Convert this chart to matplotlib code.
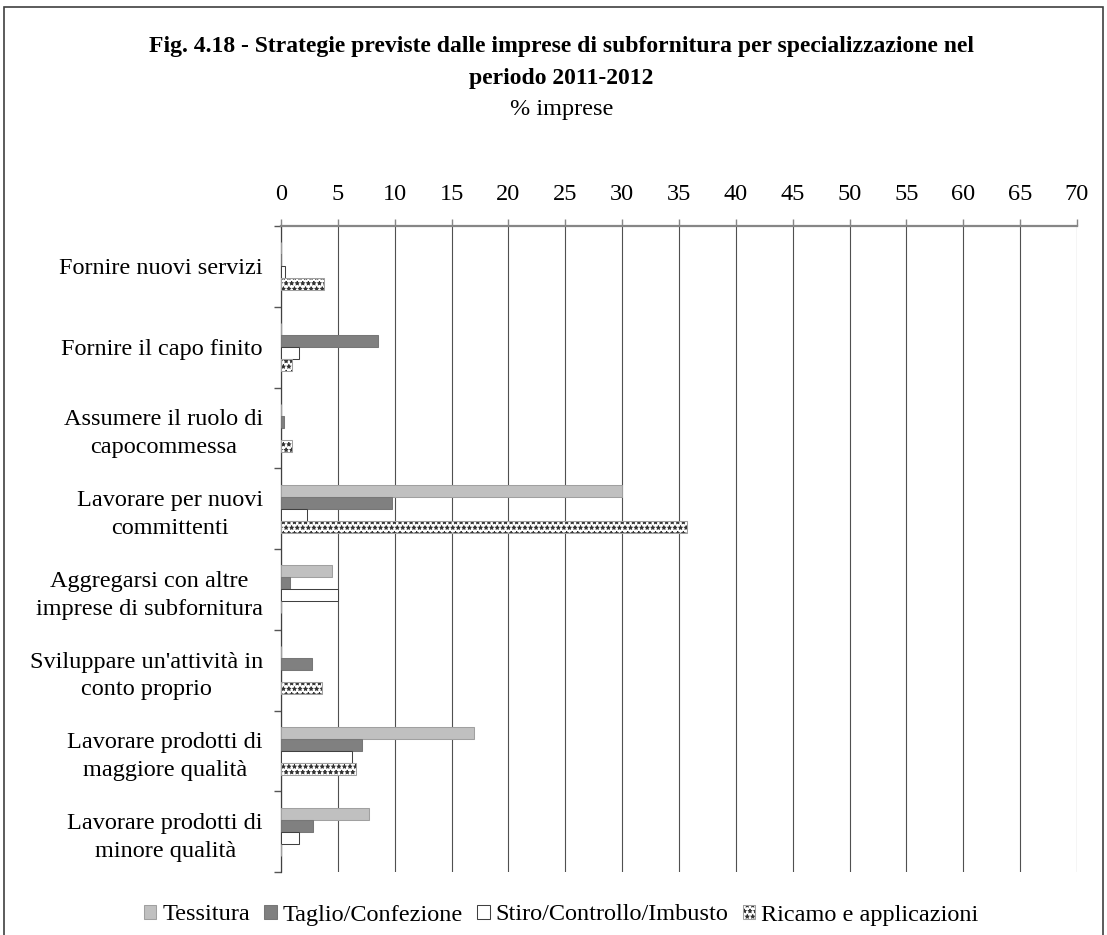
import numpy as np
import matplotlib
matplotlib.use("Agg")
import matplotlib.pyplot as plt
from matplotlib.patches import Patch, Rectangle
from matplotlib.ticker import FixedLocator

plt.rcParams['font.family'] = ['Liberation Serif', 'DejaVu Serif']
plt.rcParams['hatch.linewidth'] = 0.6

categories = [
    "Fornire nuovi servizi",
    "Fornire il capo finito",
    "Assumere il ruolo di\ncapocommessa",
    "Lavorare per nuovi\ncommittenti",
    "Aggregarsi con altre\nimprese di subfornitura",
    "Sviluppare un'attività in\nconto proprio",
    "Lavorare prodotti di\nmaggiore qualità",
    "Lavorare prodotti di\nminore qualità",
]
series_names = ["Tessitura", "Taglio/Confezione", "Stiro/Controllo/Imbusto", "Ricamo e applicazioni"]
tessitura = [0, 0, 0, 30.0, 4.5, 0, 17.0, 7.7]
taglio = [0, 8.5, 0.3, 9.8, 0.8, 2.7, 7.1, 2.8]
stiro = [0.35, 1.6, 0, 2.3, 5.0, 0, 6.2, 1.6]
ricamo = [3.8, 1.0, 1.0, 35.7, 0, 3.6, 6.6, 0]
x_ticks = list(range(0, 75, 5))

fig = plt.figure(figsize=(11.07, 9.35), dpi=100)
ax = fig.add_axes([281 / 1107, 1 - 872 / 935, (1077 - 281) / 1107, (872 - 226) / 935])

y = np.arange(len(categories))
h = 12 / 80.75
lw = 0.75

ax.barh(y - 1.5 * h, tessitura, height=h, color='#c0c0c0', edgecolor='#a0a0a0', linewidth=lw, zorder=3)
ax.barh(y - 0.5 * h, taglio, height=h, color='#808080', edgecolor='#777777', linewidth=lw, zorder=3)
ax.barh(y + 0.5 * h, stiro, height=h, color='white', edgecolor='#404040', linewidth=lw, zorder=3)
ax.barh(y + 1.5 * h, ricamo, height=h, color='white', edgecolor='#303030', hatch='***', linewidth=0, zorder=3)
ax.barh(y + 1.5 * h, ricamo, height=h, fill=False, edgecolor='#a0a0a0', linewidth=lw, zorder=4)

ax.set_xlim(0, 70)
ax.set_ylim(len(categories) - 0.5, -0.5)

ax.xaxis.tick_top()
ax.set_xticks(x_ticks)
ax.tick_params(axis='x', direction='out', length=5, width=1, color='#868686', pad=10, labelsize=17.5)
ax.grid(axis='x', color='#505050', linewidth=0.8, zorder=0)

ax.set_yticks(y)
ax.set_yticklabels(categories)
ax.yaxis.set_minor_locator(FixedLocator(np.arange(-0.5, len(categories), 1.0)))
ax.tick_params(axis='y', which='major', length=0, pad=13, labelsize=17.5)
ax.tick_params(axis='y', which='minor', length=5, width=1, color='#555555')
for lbl in ax.get_yticklabels():
    lbl.set_multialignment('center')
    lbl.set_linespacing(1.42)

for s in ['right', 'bottom']:
    ax.spines[s].set_visible(False)
ax.spines['top'].set_color('#868686')
ax.spines['top'].set_linewidth(1.6)
ax.spines['left'].set_color('#404040')
ax.spines['left'].set_linewidth(0.9)

fig.text(0.507, 1 - 52 / 935, "Fig. 4.18 - Strategie previste dalle imprese di subfornitura per specializzazione nel",
         ha='center', va='baseline', fontsize=17, fontweight='bold')
fig.text(0.507, 1 - 84 / 935, "periodo 2011-2012", ha='center', va='baseline', fontsize=17, fontweight='bold')
fig.text(0.507, 1 - 115 / 935, "% imprese", ha='center', va='baseline', fontsize=17.5)

handles = [
    Patch(facecolor='#c0c0c0', edgecolor='#a0a0a0', linewidth=lw),
    Patch(facecolor='#808080', edgecolor='#777777', linewidth=lw),
    Patch(facecolor='white', edgecolor='#404040', linewidth=lw),
    (Patch(facecolor='white', edgecolor='#303030', hatch='***', linewidth=0),
     Patch(fill=False, edgecolor='#a0a0a0', linewidth=lw)),
]
fig.legend(handles, series_names, loc='center', bbox_to_anchor=(0.507, 1 - 915 / 935), ncol=4,
           frameon=False, fontsize=17.5, handlelength=0.5, handleheight=0.5,
           handletextpad=0.25, columnspacing=0.6, borderaxespad=0)

fig.patches.append(Rectangle((4 / 1107, -0.01), 1099 / 1107, 1.01 - 7 / 935, transform=fig.transFigure,
                             fill=False, edgecolor='#404040', linewidth=1.2))

fig.savefig("out.png", dpi=100)
